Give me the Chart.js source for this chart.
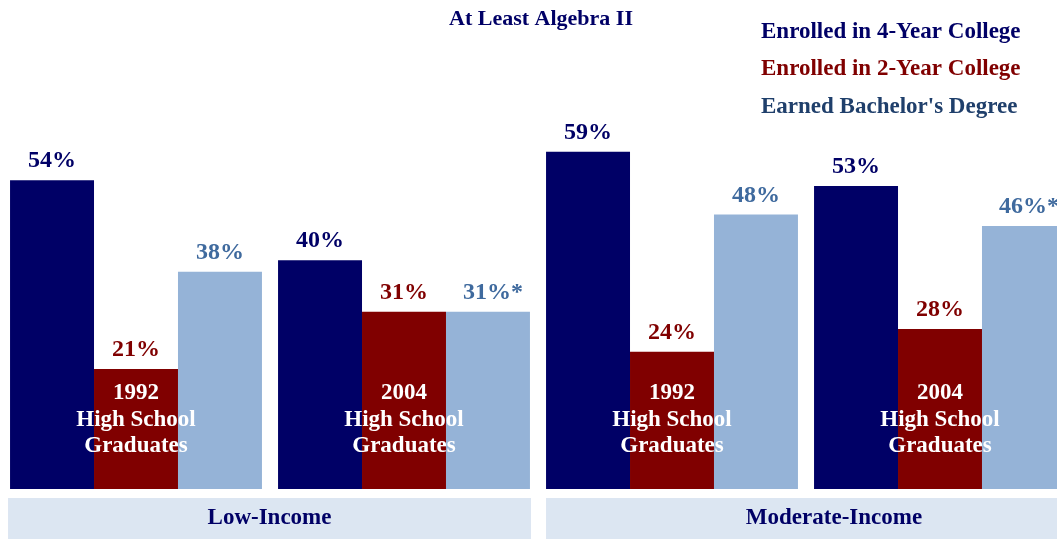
<!DOCTYPE html>
<html>
<head>
<meta charset="utf-8">
<script src="https://cdn.jsdelivr.net/npm/chart.js@4/dist/chart.umd.min.js"></script>
<style>
html,body{margin:0;padding:0;background:#fff;overflow:hidden;width:1057px;height:539px;}
#wrap{position:absolute;left:0;top:0;width:1080px;height:539px;}
</style>
</head>
<body>
<div id="wrap"><canvas id="c" width="1080" height="539"></canvas></div>
<script>
const categories = ['1992', '2004', '1992', '2004'];
const cohortLines = ['High School', 'Graduates'];
const incomeGroups = ['Low-Income', 'Moderate-Income'];
const seriesNames = ['Enrolled in 4-Year College', 'Enrolled in 2-Year College', "Earned Bachelor's Degree"];
const fourYear = [54, 40, 59, 53];
const twoYear = [21, 31, 24, 28];
const bachelor = [38, 31, 48, 46];
const bachelorNote = ['', '*', '', '*'];
const chartTitle = 'At Least Algebra II';

const NAVY = '#000066', MAROON = '#800000', LIGHT = '#95B3D7';
const labelColors = [NAVY, MAROON, '#3F6A9E'];
const legendColors = [NAVY, MAROON, '#1F3F6B'];
const FONT = '"Liberation Serif", "Times New Roman", serif';

const overlay = {
  id: 'overlay',
  afterDatasetsDraw(chart) {
    const ctx = chart.ctx;
    const area = chart.chartArea;
    const x = chart.scales.x;
    ctx.save();
    ctx.textAlign = 'center';
    ctx.textBaseline = 'middle';
    // value labels
    chart.data.datasets.forEach((ds, di) => {
      const meta = chart.getDatasetMeta(di);
      meta.data.forEach((bar, i) => {
        const note = di === 2 ? bachelorNote[i] : '';
        ctx.fillStyle = labelColors[di];
        ctx.font = 'bold 24px ' + FONT;
        ctx.fillText(ds.data[i] + '%' + note, bar.x + (note ? 5 : 0), bar.y - 19);
      });
    });
    // cohort labels inside bars
    ctx.fillStyle = '#ffffff';
    ctx.font = 'bold 23px ' + FONT;
    categories.forEach((c, i) => {
      const cx = x.getPixelForValue(i);
      ctx.fillText(c, cx, area.bottom - 96);
      ctx.fillText(cohortLines[0], cx, area.bottom - 69);
      ctx.fillText(cohortLines[1], cx, area.bottom - 43);
    });
    // income boxes
    const half = (x.getPixelForValue(1) - x.getPixelForValue(0)) / 2;
    const gw = half * 2 * 0.94 / 2;
    incomeGroups.forEach((g, k) => {
      const l = x.getPixelForValue(k * 2) - gw - (k === 0 ? 2 : 0);
      const r = x.getPixelForValue(k * 2 + 1) + gw + 1;
      ctx.fillStyle = '#DCE6F2';
      ctx.fillRect(l, area.bottom + 9, r - l, 60);
      ctx.fillStyle = NAVY;
      ctx.font = 'bold 23px ' + FONT;
      const cx = k === 1 ? 834 : (l + r) / 2;
      ctx.fillText(g, cx, area.bottom + 29);
    });
    // title
    ctx.fillStyle = NAVY;
    ctx.font = 'bold 22px ' + FONT;
    ctx.fillText(chartTitle, 541, 19);
    // legend
    ctx.textAlign = 'left';
    ctx.font = 'bold 23px ' + FONT;
    seriesNames.forEach((n, i) => {
      ctx.fillStyle = legendColors[i];
      ctx.fillText(n, 761, 32 + i * 37.5);
    });
    ctx.restore();
  }
};

new Chart(document.getElementById('c'), {
  type: 'bar',
  data: {
    labels: categories,
    datasets: [
      { label: seriesNames[0], data: fourYear, backgroundColor: NAVY },
      { label: seriesNames[1], data: twoYear, backgroundColor: MAROON },
      { label: seriesNames[2], data: bachelor, backgroundColor: LIGHT }
    ]
  },
  options: {
    responsive: false,
    animation: false,
    layout: { padding: { left: 2, right: 6, top: 3, bottom: 50 } },
    datasets: { bar: { barPercentage: 1, categoryPercentage: 0.94, borderWidth: 0 } },
    scales: {
      x: { display: false },
      y: { display: false, min: 0, max: 85 }
    },
    plugins: { legend: { display: false }, title: { display: false }, tooltip: { enabled: false } }
  },
  plugins: [overlay]
});
</script>
</body>
</html>
